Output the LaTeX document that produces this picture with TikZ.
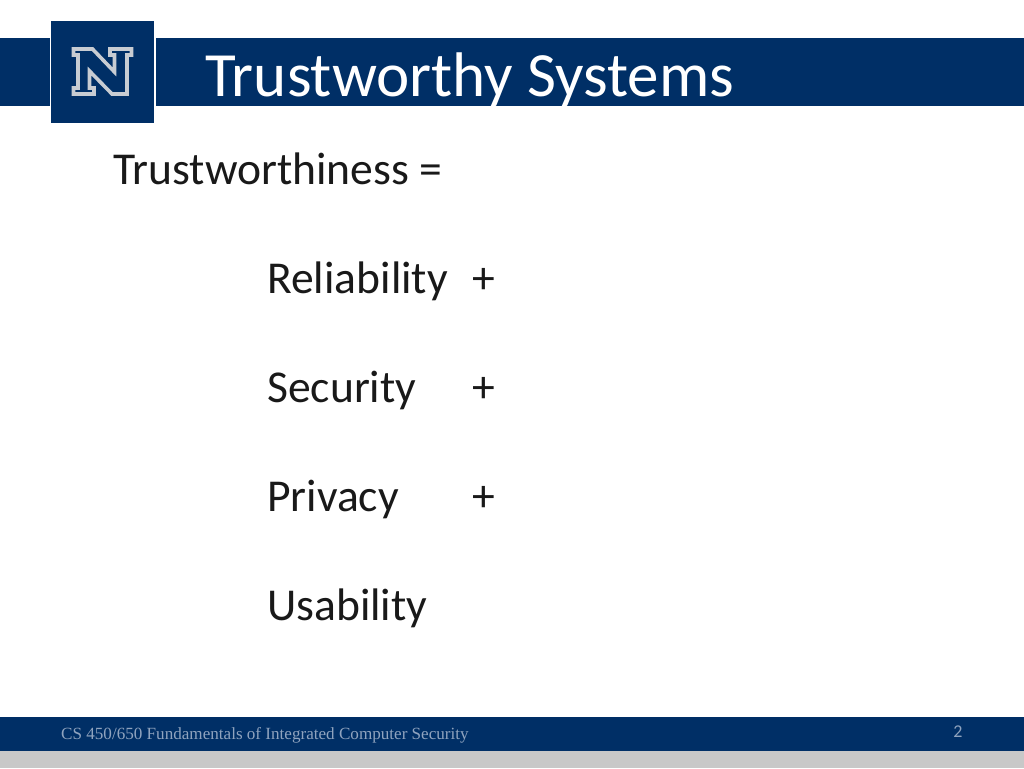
\documentclass[tikz,border=0pt]{standalone}
\usepackage{fontspec}
\setmainfont{Carlito}
\newfontfamily\footfont{Liberation Serif}
\definecolor{navy}{HTML}{002F66}
\definecolor{logogray}{HTML}{C8CCD2}
\definecolor{footgray}{HTML}{C8C8C8}
\definecolor{foottext}{HTML}{8FA3BE}
\tikzset{
  body/.style={anchor=base west,inner sep=0pt,font=\fontsize{45.6}{46}\selectfont,text=black!90},
  band/.style={fill=navy,draw=none}
}
\begin{document}
\begin{tikzpicture}[x=1pt,y=-1pt]
\useasboundingbox (0,0) rectangle (1024,768);
\fill[white] (0,0) rectangle (1024,768);
\fill[band] (0,38) rectangle (49.5,105.5);
\fill[band] (155.5,38) rectangle (1024,105.5);
\fill[band] (51,21) rectangle (153.5,122.5);
\path[fill=navy,draw=logogray,line width=3.6pt,line join=miter]
 (73.5,49) -- (92.5,49) -- (114.5,72) -- (114.5,55) -- (110,55) -- (110,49) -- (131.5,49) -- (131.5,55) -- (127,55)
 -- (127,94) -- (112,94) -- (89.5,71) -- (89.5,88) -- (94,88) -- (94,94) -- (73.5,94) -- (73.5,88) -- (78,88) -- (78,55) -- (73.5,55) -- cycle;
\fill[band] (0,717) rectangle (1024,751);
\fill[footgray] (0,751) rectangle (1024,768);
\node[anchor=base west,inner sep=0pt,text=white,font=\fontsize{63}{63}\selectfont] (title) at (205,96) {Trustworthy Systems};
\node[body] (t) at (113,184) {Trustworthiness =};
\node[body] (r) at (267,293) {Reliability};
\node[body] (rp) at (472,293) {+};
\node[body] (s) at (267,402) {Security};
\node[body] (sp) at (472,402) {+};
\node[body] (p) at (267,511) {Privacy};
\node[body] (pp) at (472,511) {+};
\node[body] (u) at (267,620) {Usability};
\node[anchor=base west,inner sep=0pt,text=foottext,font=\footfont\fontsize{17.1}{17}\selectfont] (f) at (61,739) {CS 450/650 Fundamentals of Integrated Computer Security};
\node[anchor=base,inner sep=0pt,text=foottext,font=\fontsize{18}{18}\selectfont] (n) at (958,737) {2};
\end{tikzpicture}
\end{document}
